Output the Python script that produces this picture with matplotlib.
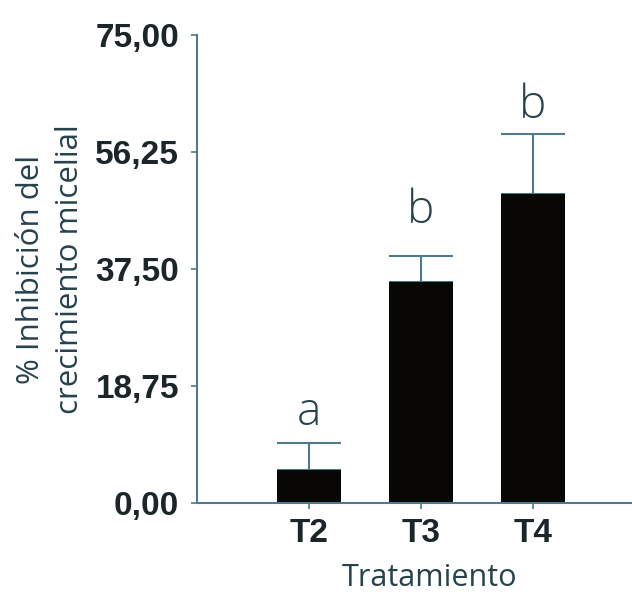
import matplotlib.pyplot as plt

treatments = ['T2', 'T3', 'T4']
inhibition = [5.3, 35.4, 49.5]
error_up = [4.3, 4.2, 9.6]
letters = ['a', 'b', 'b']
letter_y = [12.5, 44.9, 61.7]
yticks = [0, 18.75, 37.5, 56.25, 75]
ytick_labels = ['0,00', '18,75', '37,50', '56,25', '75,00']

axis_color = '#4d7a8c'
text_color = '#1c2528'
label_color = '#26424d'

fig = plt.figure(figsize=(6.32, 5.95), dpi=100)
ax = fig.add_axes([0.3117, 0.1546, 0.70, 0.7864])

x = range(len(treatments))
ax.bar(x, inhibition, width=0.58, color='#080706', zorder=2)
ax.errorbar(x, inhibition, yerr=[[0, 0, 0], error_up], fmt='none',
            ecolor=axis_color, elinewidth=1.5, capsize=23, capthick=1.5, zorder=1)

for xi, ly, lab in zip(x, letter_y, letters):
    ax.text(xi, ly, lab, ha='center', va='baseline', fontsize=33,
            family='Open Sans', fontweight='light', color=label_color)

ax.set_xlim(-1, 2.95)
ax.set_ylim(0, 75)
ax.set_yticks(yticks)
ax.set_yticklabels(ytick_labels)
ax.set_xticks(list(x))
ax.set_xticklabels(treatments)

for lab in ax.get_yticklabels() + ax.get_xticklabels():
    lab.set_family('Liberation Sans')
    lab.set_fontweight('bold')
    lab.set_fontsize(24)
    lab.set_color(text_color)

ax.spines['top'].set_visible(False)
ax.spines['right'].set_visible(False)
for s in ['left', 'bottom']:
    ax.spines[s].set_color(axis_color)
    ax.spines[s].set_linewidth(1.5)
ax.tick_params(axis='y', length=4, width=1.2, color=axis_color, pad=9)
ax.tick_params(axis='x', length=4, width=1.2, color=axis_color, pad=7)

ax.set_xlabel('Tratamiento', family='Open Sans', fontsize=22, color=label_color)
ax.xaxis.set_label_coords(0.525, -0.128)
ax.set_ylabel('% Inhibición del\ncrecimiento micelial', family='Open Sans', fontsize=22.5,
              color=label_color, labelpad=7, linespacing=1.42)

fig.savefig('out.png', dpi=100)
